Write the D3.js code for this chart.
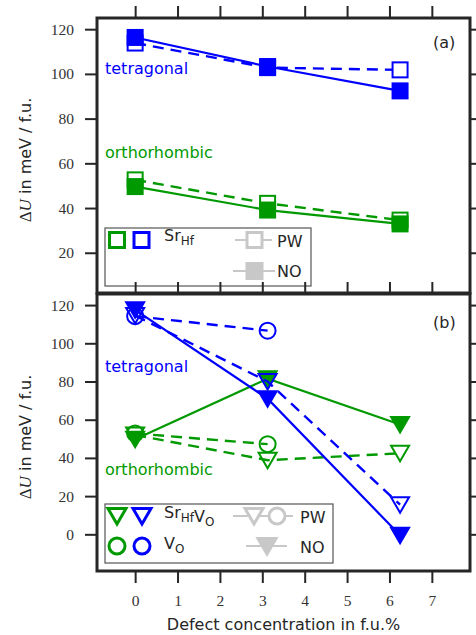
<!DOCTYPE html>
<html>
<head>
<meta charset="utf-8">
<script src="https://cdn.jsdelivr.net/npm/d3@7"></script>
<style>
  body { margin: 0; background: #fff; }
  .tick line { stroke: #262626; stroke-width: 2; }
  .sans { font-family: "DejaVu Sans", sans-serif; }
</style>
</head>
<body>
<svg id="svg1" width="476" height="635"></svg>
<script>
// x values (defect concentration, f.u.%)
var conc = [0, 3.125, 6.25];
var xTicks = [0, 1, 2, 3, 4, 5, 6, 7];
var yTicksA = [20, 40, 60, 80, 100, 120];
var yTicksB = [0, 20, 40, 60, 80, 100, 120];

// panel (a): Sr_Hf
var tetSrHfPW  = [113.8, 102.8, 101.8];
var tetSrHfNO  = [116.3, 103.3, 92.4];
var orthSrHfPW = [52.6, 42.1, 34.6];
var orthSrHfNO = [49.6, 39.1, 32.9];

// panel (b): Sr_Hf V_O and V_O
var orthVoPW     = [52.8, 47.2];
var orthSrVoPW   = [52.0, 38.8, 42.4];
var orthSrVoNO   = [49.8, 81.5, 57.5];
var tetVoPW      = [114.2, 106.6];
var tetSrVoPW    = [114.5, 80.0, 15.5];
var tetSrVoNO    = [117.5, 71.0, -0.5];

var blue = "#0000ff";
var green = "#009a00";
var gray = "#c8c8c8";
var ink = "#262626";

var svg = d3.select("#svg1");

var frameA = {"left": 97, "right": 470, "top": 18, "bottom": 293};
var frameB = {"left": 97, "right": 470, "top": 294, "bottom": 571};

var scale = {
  "x": d3.scaleLinear().domain([-0.9, 7.9]).range([frameA.left, frameA.right]),
  "yA": d3.scaleLinear().domain([2, 125]).range([frameA.bottom, frameA.top]),
  "yB": d3.scaleLinear().domain([-19.2, 125.8]).range([frameB.bottom, frameB.top])
};

function translate(x, y) { return "translate(" + x + "," + y + ")"; }

function pairs(ys) {
  return ys.map(function(v, i) { return [conc[i], v]; });
}

// marker drawing
function marker(g, type, cx, cy, color, filled, sw) {
  sw = sw || 2;
  var fill = filled ? color : (type === "square" ? "#fff" : "none");
  if (type === "square") {
    g.append("rect")
      .attr("x", cx - 7.5).attr("y", cy - 7.5)
      .attr("width", 15).attr("height", 15)
      .attr("fill", fill).attr("stroke", color).attr("stroke-width", sw);
  } else if (type === "tri") {
    g.append("path")
      .attr("d", "M" + (cx - 9) + "," + (cy - 7.5) + "L" + (cx + 9) + "," + (cy - 7.5) +
                 "L" + cx + "," + (cy + 8) + "Z")
      .attr("fill", fill).attr("stroke", color).attr("stroke-width", sw)
      .attr("stroke-linejoin", "miter");
  } else {
    g.append("circle")
      .attr("cx", cx).attr("cy", cy).attr("r", 8)
      .attr("fill", fill).attr("stroke", color).attr("stroke-width", sw);
  }
}

function drawSeries(g, y, ys, color, dashed, type, filled) {
  var data = pairs(ys);
  var line = d3.line()
    .x(function(d) { return scale.x(d[0]); })
    .y(function(d) { return y(d[1]); });
  g.append("path")
    .attr("d", line(data))
    .attr("fill", "none")
    .attr("stroke", color)
    .attr("stroke-width", dashed ? 2.4 : 2.2)
    .attr("stroke-dasharray", dashed ? "11,7" : null);
  data.forEach(function(d) {
    marker(g, type, scale.x(d[0]), y(d[1]), color, filled);
  });
}

function styleTicks(sel) {
  sel.selectAll(".tick text")
    .attr("font-family", "Liberation Serif, serif")
    .attr("font-size", 15.5)
    .attr("fill", "#333");
}

function createPanel(frame, y, yTicks, bottomLabels) {
  var g = svg.append("g");
  g.append("rect")
    .attr("x", frame.left).attr("y", frame.top)
    .attr("width", frame.right - frame.left)
    .attr("height", frame.bottom - frame.top)
    .attr("fill", "#fff");

  var gl = g.append("g").attr("transform", translate(frame.left, 0))
    .call(d3.axisLeft(y).tickValues(yTicks).tickSize(12).tickPadding(11));
  styleTicks(gl);
  g.append("g").attr("transform", translate(frame.right, 0))
    .call(d3.axisRight(y).tickValues(yTicks).tickSize(12).tickFormat(""));
  g.append("g").attr("transform", translate(0, frame.top))
    .call(d3.axisTop(scale.x).tickValues(xTicks).tickSize(12).tickFormat(""));
  if (bottomLabels) {
    var gb = g.append("g").attr("transform", translate(0, frame.bottom))
      .call(d3.axisBottom(scale.x).tickValues(xTicks).tickSize(12).tickPadding(12));
    styleTicks(gb);
  }
  g.selectAll(".domain").remove();

  var plot = g.append("g");
  return {"g": g, "plot": plot};
}

function drawFrame(g, frame) {
  g.append("rect")
    .attr("x", frame.left).attr("y", frame.top)
    .attr("width", frame.right - frame.left)
    .attr("height", frame.bottom - frame.top)
    .attr("fill", "none").attr("stroke", ink).attr("stroke-width", 3);
}

function yLabel(g, cy) {
  var t = g.append("text")
    .attr("transform", translate(31, cy) + " rotate(-90)")
    .attr("text-anchor", "middle")
    .attr("fill", ink)
    .style("font-size", "16px");
  t.append("tspan").style("font-family", "Liberation Serif, serif").style("font-size", "17px").text("Δ");
  t.append("tspan").style("font-family", "Liberation Serif, serif").style("font-size", "17px").style("font-style", "italic").text("U");
  t.append("tspan").style("font-family", "DejaVu Sans, sans-serif").text(" in meV / f.u.");
}

function label(g, x, yy, txt, color, size) {
  g.append("text").attr("class", "sans")
    .attr("x", x).attr("y", yy)
    .attr("fill", color)
    .style("font-size", size + "px")
    .text(txt);
}

function subText(g, x, yy, parts) {
  var t = g.append("text").attr("class", "sans")
    .attr("x", x).attr("y", yy).attr("fill", ink)
    .style("font-size", "16px");
  parts.forEach(function(p) {
    if (p[1]) {
      t.append("tspan").attr("dy", 4).style("font-size", "12px").text(p[0]);
      t.append("tspan").attr("dy", -4).text("");
    } else {
      t.append("tspan").text(p[0]);
    }
  });
}

// ---------- panel (a)
var pa = createPanel(frameA, scale.yA, yTicksA, false);
drawSeries(pa.plot, scale.yA, orthSrHfPW, green, true, "square", false);
drawSeries(pa.plot, scale.yA, orthSrHfNO, green, false, "square", true);
drawSeries(pa.plot, scale.yA, tetSrHfPW, blue, true, "square", false);
drawSeries(pa.plot, scale.yA, tetSrHfNO, blue, false, "square", true);
label(pa.g, 105, 74, "tetragonal", blue, 16);
label(pa.g, 105, 158, "orthorhombic", green, 16);
label(pa.g, 433, 48, "(a)", ink, 16);
yLabel(pa.g, 160);

// legend (a)
var la = pa.g.append("g");
la.append("rect").attr("x", 105).attr("y", 228).attr("width", 206).attr("height", 58)
  .attr("fill", "#fff").attr("stroke", "#555").attr("stroke-width", 1.2);
marker(la, "square", 117, 240, green, false, 3);
marker(la, "square", 141.5, 240, blue, false, 3);
subText(la, 164, 241, [["Sr", false], ["Hf", true]]);
la.append("line").attr("x1", 235).attr("x2", 272).attr("y1", 240).attr("y2", 240)
  .attr("stroke", gray).attr("stroke-width", 2.2);
marker(la, "square", 254.5, 240, gray, false, 3);
label(la, 277, 247, "PW", ink, 16);
la.append("line").attr("x1", 233).attr("x2", 275).attr("y1", 271).attr("y2", 271)
  .attr("stroke", gray).attr("stroke-width", 2.2);
marker(la, "square", 254.5, 271, gray, true, 3);
label(la, 277, 277, "NO", ink, 16);
drawFrame(pa.g, frameA);

// ---------- panel (b)
var pb = createPanel(frameB, scale.yB, yTicksB, true);
drawSeries(pb.plot, scale.yB, orthVoPW, green, true, "circle", false);
drawSeries(pb.plot, scale.yB, orthSrVoPW, green, true, "tri", false);
drawSeries(pb.plot, scale.yB, orthSrVoNO, green, false, "tri", true);
drawSeries(pb.plot, scale.yB, tetVoPW, blue, true, "circle", false);
drawSeries(pb.plot, scale.yB, tetSrVoNO, blue, false, "tri", true);
drawSeries(pb.plot, scale.yB, tetSrVoPW, blue, true, "tri", false);
label(pb.g, 105, 372, "tetragonal", blue, 16);
label(pb.g, 105, 475, "orthorhombic", green, 16);
label(pb.g, 433, 328, "(b)", ink, 16);
yLabel(pb.g, 437);

// legend (b)
var lb = pb.g.append("g");
lb.append("rect").attr("x", 105).attr("y", 504).attr("width", 228).attr("height", 59)
  .attr("fill", "#fff").attr("stroke", "#555").attr("stroke-width", 1.2);
marker(lb, "tri", 117, 516, green, false, 3);
marker(lb, "tri", 142, 516, blue, false, 3);
subText(lb, 164, 518, [["Sr", false], ["Hf", true], ["V", false], ["O", true]]);
lb.append("line").attr("x1", 233).attr("x2", 293).attr("y1", 516).attr("y2", 516)
  .attr("stroke", gray).attr("stroke-width", 2.2);
marker(lb, "tri", 254, 516, gray, true, 3);
lb.select("path:last-child").attr("fill", "#fff");
marker(lb, "circle", 277, 516, gray, false, 3);
lb.select("circle:last-child").attr("fill", "#fff");
label(lb, 300, 523, "PW", ink, 16);
marker(lb, "circle", 117, 546, green, false, 3);
marker(lb, "circle", 142, 546, blue, false, 3);
subText(lb, 164, 549, [["V", false], ["O", true]]);
lb.append("line").attr("x1", 246).attr("x2", 287).attr("y1", 546).attr("y2", 546)
  .attr("stroke", gray).attr("stroke-width", 2.2);
marker(lb, "tri", 267, 546, gray, true, 3);
label(lb, 300, 553, "NO", ink, 16);
drawFrame(pb.g, frameB);

// x label
svg.append("text").attr("class", "sans")
  .attr("x", 283.5).attr("y", 630)
  .attr("text-anchor", "middle")
  .attr("fill", ink)
  .style("font-size", "16px")
  .text("Defect concentration in f.u.%");
</script>
</body>
</html>
